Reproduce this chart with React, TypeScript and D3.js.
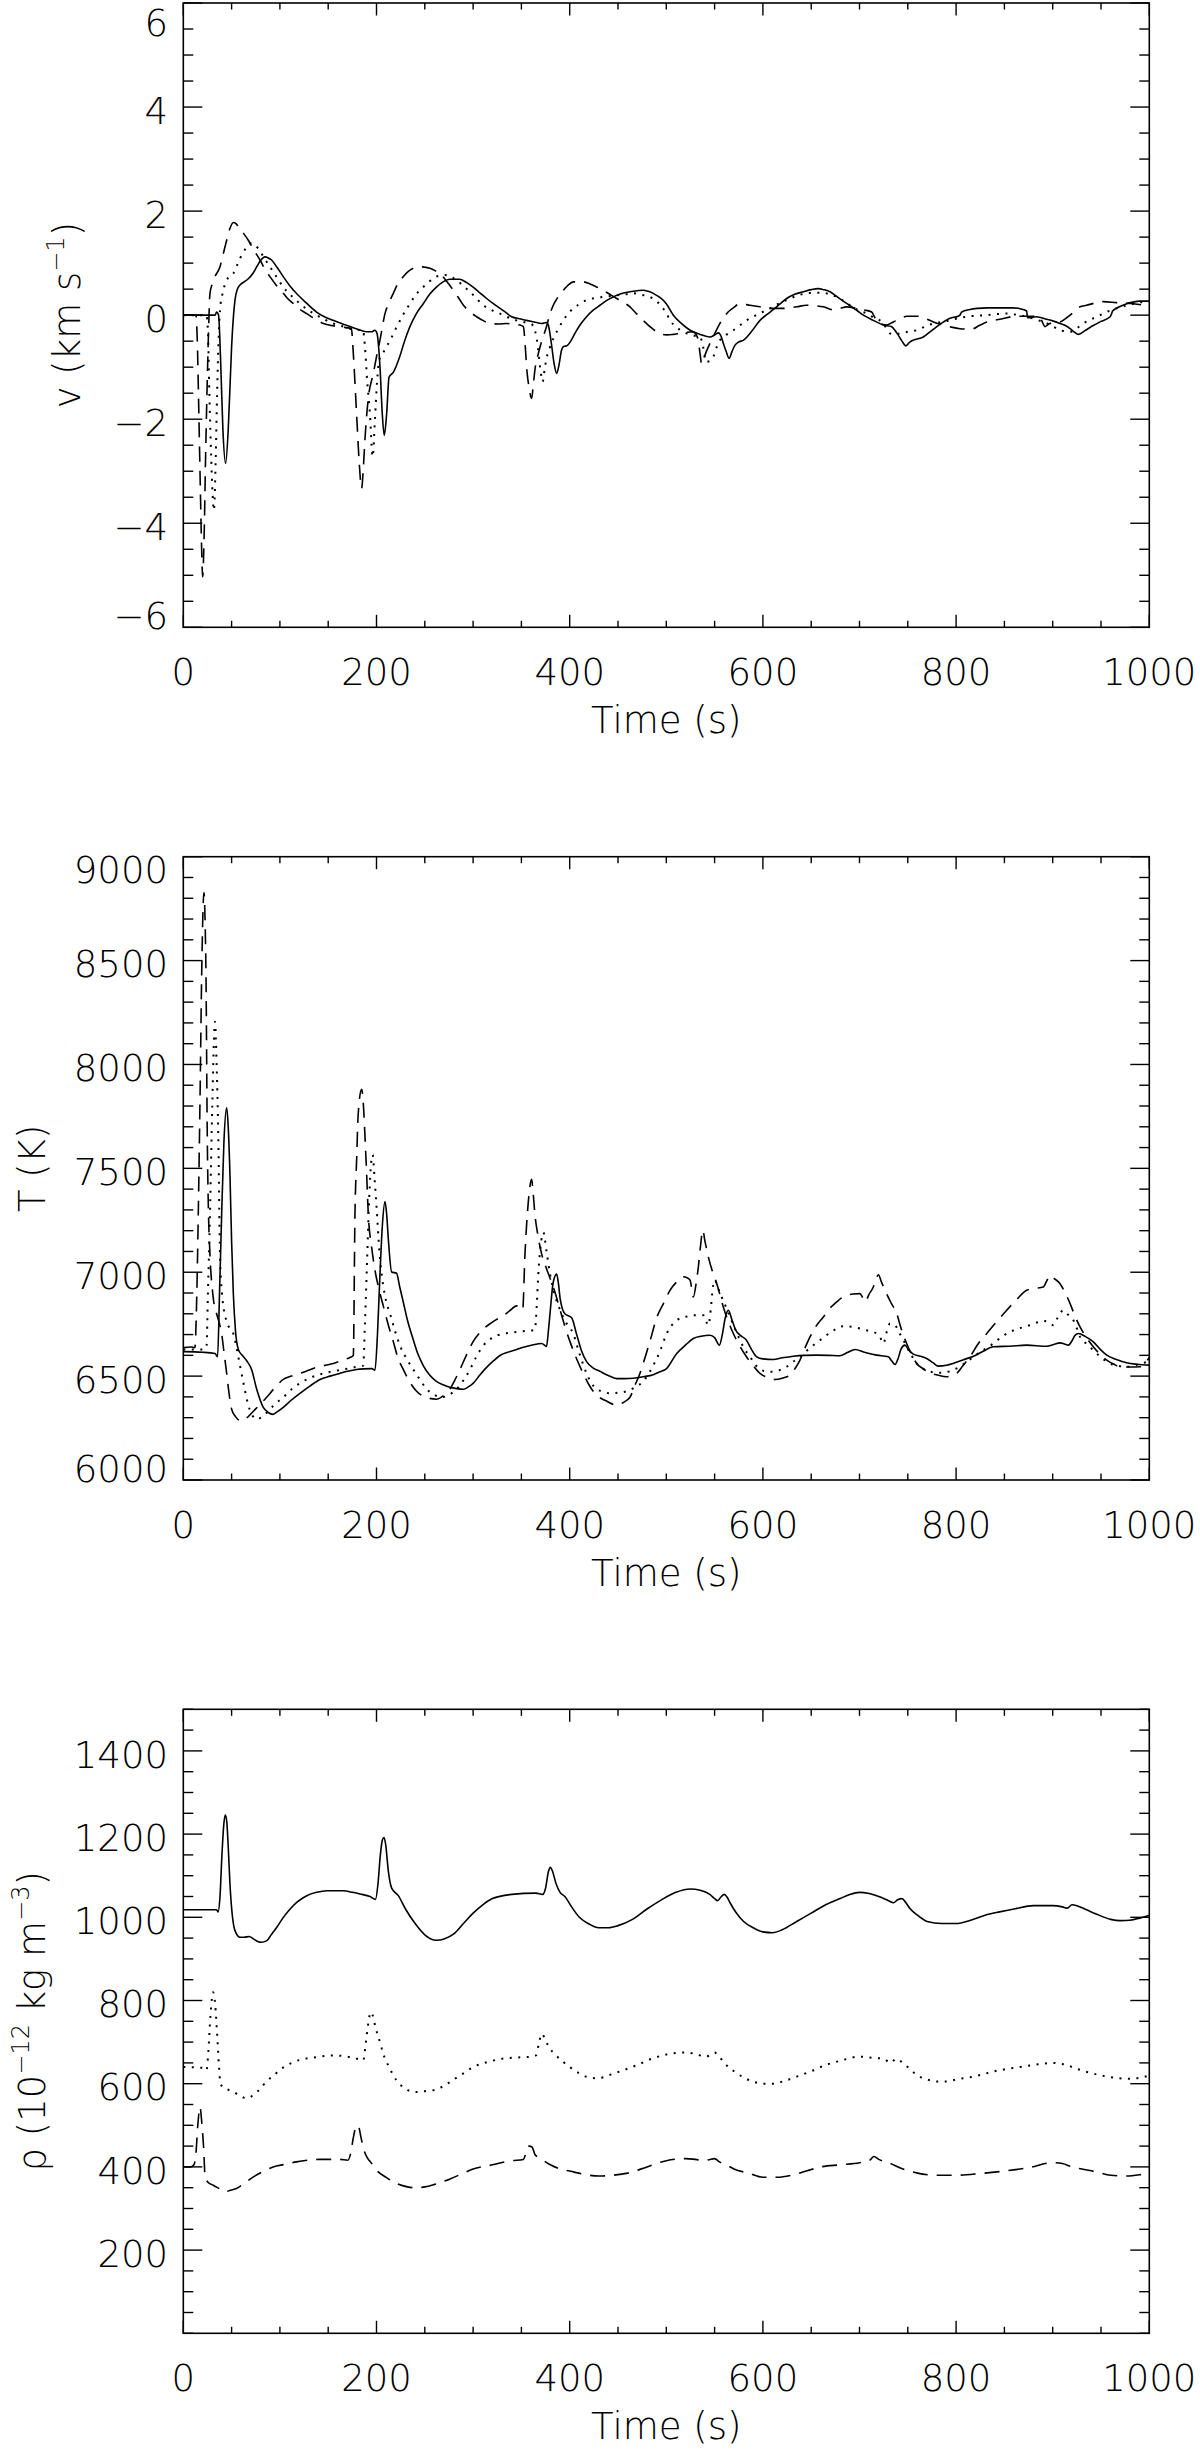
import React from 'react';
import * as d3 from 'd3';

type Pt = [number, number];

// ---------------- tick labels ----------------
const timeTicks = [0, 200, 400, 600, 800, 1000];
const vTicks = [-6, -4, -2, 0, 2, 4, 6];
const tempTicks = [6000, 6500, 7000, 7500, 8000, 8500, 9000];
const rhoTicks = [200, 400, 600, 800, 1000, 1200, 1400];

// ---------------- panel 1: velocity (km/s) ----------------
const vSolid: Pt[] = [[0,0],[20,0],[33,0],[34.5,0.06],[36.5,0],[38.5,-0.8],[41,-2.2],[43.8,-2.85],[46.5,-2.2],[48.5,-1.3],[50,-0.61],[52,0],[53.5,0.29],[56,0.5],[58.7,0.58],[63,0.64],[67.3,0.7],[72,0.8],[76,0.93],[80,1.05],[84.5,1.12],[88,1.1],[91.4,1.06],[97,0.92],[103.5,0.74],[110,0.57],[117,0.42],[127,0.24],[138,0.06],[146,-0.03],[155,-0.1],[165,-0.17],[172.5,-0.22],[182,-0.28],[190,-0.32],[195,-0.32],[198.4,-0.29],[200.5,-0.35],[203.6,-0.99],[206,-1.9],[208,-2.31],[210.5,-1.9],[213,-1.19],[217.4,-1.1],[224,-0.8],[229,-0.5],[234.6,-0.22],[241,0.02],[248.4,0.22],[255,0.4],[262,0.54],[269,0.64],[276,0.69],[286,0.69],[293,0.63],[300,0.54],[307,0.43],[314,0.32],[321,0.22],[328,0.13],[334,0.05],[340,-0.03],[348,-0.07],[355.4,-0.1],[363,-0.13],[371,-0.16],[376,-0.14],[378,-0.2],[381,-0.54],[384,-0.95],[386.5,-1.12],[389,-0.95],[391.6,-0.67],[394,-0.6],[397,-0.59],[401,-0.5],[405.4,-0.35],[411,-0.18],[417.5,-0.03],[424,0.09],[431.3,0.19],[438,0.28],[445,0.35],[453,0.41],[462.4,0.45],[470,0.47],[476,0.48],[483,0.45],[490,0.38],[494,0.33],[500,0.22],[507.3,0],[515,-0.15],[524.6,-0.29],[535,-0.37],[545.3,-0.42],[550,-0.38],[554,-0.34],[557,-0.42],[559,-0.54],[562,-0.7],[565,-0.83],[568,-0.7],[571,-0.58],[574.6,-0.52],[580,-0.48],[588,-0.32],[597,-0.1],[604,0.01],[611,0.11],[618,0.22],[624.6,0.32],[633,0.4],[642,0.45],[650,0.49],[657.4,0.51],[663,0.49],[669.5,0.45],[675,0.38],[681.6,0.29],[692,0.16],[698,0.08],[704,0],[714.3,-0.1],[724.7,-0.19],[733,-0.22],[737,-0.3],[740,-0.38],[744,-0.5],[748,-0.59],[752,-0.52],[755.7,-0.48],[766,-0.42],[773,-0.32],[780,-0.22],[787,-0.13],[793.7,-0.06],[802,-0.02],[804,0],[805.8,0.06],[814.4,0.11],[822,0.13],[831.7,0.14],[845,0.14],[859,0.14],[867,0.12],[873,0.08],[874,-0.05],[883.4,-0.03],[893.8,-0.08],[900,-0.11],[907.6,-0.16],[913,-0.2],[918,-0.26],[922,-0.32],[926.6,-0.37],[934,-0.29],[942,-0.2],[950,-0.12],[959.4,-0.03],[961,0.03],[962,0.08],[969,0.16],[976.6,0.22],[983,0.25],[990,0.27],[1000,0.27]];

const vDotted: Pt[] = [[0,0],[24,0],[25.5,-0.3],[27,-1.5],[29,-2.8],[31.7,-3.75],[33.5,-2.8],[35,-1.5],[36.5,-0.5],[38,0.1],[40.7,0.42],[44.9,0.67],[48,0.75],[51.8,0.8],[55,0.93],[58.7,1.09],[62,1.2],[65.6,1.31],[70.7,1.38],[74,1.35],[77.6,1.28],[83,1.12],[89.7,0.93],[96,0.75],[103.5,0.54],[112,0.37],[120.8,0.22],[129,0.1],[138,0],[146,-0.08],[155,-0.16],[164,-0.21],[172.5,-0.26],[180,-0.28],[186,-0.29],[188,-0.6],[190.5,-1.3],[193.2,-1.9],[196,-2.72],[198.4,-2.0],[200.5,-1.3],[203,-0.85],[206,-0.75],[210,-0.62],[215,-0.45],[221,-0.22],[228,0.02],[234.6,0.22],[241,0.4],[248.4,0.54],[255,0.65],[262,0.74],[271,0.77],[277,0.74],[283,0.67],[290,0.56],[296.8,0.45],[304,0.31],[310.6,0.19],[319,0.1],[327.8,0.03],[336,-0.04],[345,-0.1],[352,-0.13],[359,-0.16],[362,-0.2],[364,-0.29],[367,-0.6],[370,-1.1],[372,-1.28],[374,-1.05],[376,-0.83],[379,-0.65],[383,-0.45],[388,-0.27],[393.4,-0.1],[398,0.02],[403.7,0.13],[410,0.21],[417.5,0.29],[426,0.33],[434.8,0.35],[448.6,0.38],[458,0.4],[465.8,0.42],[475,0.39],[483,0.35],[490,0.27],[497,0.12],[507.3,-0.18],[514,-0.28],[521,-0.35],[528,-0.39],[535,-0.42],[538,-0.6],[541,-0.9],[545,-0.88],[548.7,-0.8],[552,-0.62],[555.6,-0.48],[562,-0.38],[569.4,-0.29],[576,-0.2],[583,-0.1],[593,0],[604,0.1],[614,0.2],[624.6,0.29],[635,0.37],[645.3,0.42],[654,0.43],[662.6,0.43],[669,0.4],[676.4,0.35],[683,0.28],[690,0.19],[698,0.1],[707.5,0.03],[714,-0.04],[721,-0.1],[726,-0.2],[731.6,-0.35],[737,-0.37],[742,-0.35],[750,-0.32],[759,-0.29],[768,-0.22],[776.5,-0.16],[785,-0.13],[793.7,-0.1],[802,-0.06],[811,-0.03],[821,-0.01],[831.7,0],[842,0.02],[852.4,0.03],[862,0.01],[873,-0.03],[882,-0.08],[890.3,-0.13],[899,-0.2],[907.6,-0.29],[913,-0.31],[918,-0.32],[925,-0.25],[931.7,-0.16],[940,-0.08],[949,0],[957,0.07],[966,0.13],[975,0.18],[983.5,0.22],[992,0.25],[1000,0.27]];

const vDashed: Pt[] = [[0,0],[13,0],[14.5,-0.5],[16,-1.8],[17.5,-3.2],[19,-4.5],[20,-5.03],[21.5,-4.3],[23,-2.8],[24.5,-1.5],[26,-0.4],[27.6,0.42],[30,0.6],[32.8,0.74],[38,0.93],[41,1.15],[44.9,1.44],[48,1.65],[51.8,1.78],[54.5,1.76],[57,1.7],[62,1.58],[67.3,1.44],[73,1.25],[79.4,1.06],[84,0.9],[89.7,0.74],[96,0.58],[103.5,0.42],[108,0.32],[113.9,0.22],[120,0.12],[127.7,0.03],[136,-0.07],[145,-0.16],[153,-0.2],[162,-0.22],[168,-0.24],[174,-0.26],[176,-0.74],[179.4,-1.9],[182,-2.8],[184.6,-3.33],[186.5,-2.9],[188,-2.4],[191.5,-1.6],[196.7,-1.12],[200,-0.8],[203.6,-0.48],[208.8,0.03],[213,0.24],[217.4,0.42],[222,0.6],[227.7,0.74],[233,0.84],[238,0.9],[245,0.93],[255.4,0.9],[261,0.85],[267.4,0.77],[273,0.64],[279.5,0.48],[285,0.33],[290,0.19],[297,0.06],[303.7,-0.03],[310,-0.1],[317.5,-0.16],[326,-0.17],[334.7,-0.16],[342,-0.18],[348.5,-0.19],[352,-0.22],[354,-0.6],[355.4,-1.0],[358,-1.4],[360.6,-1.6],[362.5,-1.3],[364,-1.05],[367.5,-0.74],[371,-0.5],[376,-0.22],[379,-0.01],[383,0.19],[388,0.35],[393.4,0.48],[398,0.57],[403.7,0.64],[414,0.64],[421,0.6],[428,0.54],[438,0.44],[448.6,0.32],[455,0.25],[462.4,0.16],[469,0.03],[476,-0.1],[483,-0.22],[490,-0.32],[496,-0.37],[500.4,-0.38],[507,-0.37],[514,-0.35],[521,-0.33],[528,-0.32],[531,-0.38],[533,-0.48],[535,-0.75],[536.6,-0.94],[538.5,-0.85],[541,-0.72],[545.3,-0.54],[551,-0.32],[557.3,-0.1],[564,0.06],[570,0.15],[576.3,0.22],[586.7,0.19],[597,0.16],[607.4,0.13],[621,0.13],[635,0.16],[645,0.19],[654,0.18],[662.6,0.16],[673,0.1],[680,0.13],[686.7,0.16],[697,0.13],[705,0.1],[712.6,0.06],[716,-0.05],[721,-0.16],[728,-0.19],[735,-0.13],[742,-0.07],[749,-0.02],[761,-0.02],[769,-0.07],[776.5,-0.13],[786.8,-0.19],[795,-0.23],[804,-0.26],[816,-0.27],[824,-0.2],[831.7,-0.13],[845.5,-0.08],[862.7,-0.02],[873,-0.02],[887,-0.03],[889,-0.12],[892,-0.22],[897,-0.16],[907.6,-0.13],[913,-0.07],[918,0],[923,0.08],[928.3,0.16],[935,0.19],[943,0.23],[952.4,0.26],[966,0.24],[983.5,0.22],[1000,0.17]];

// ---------------- panel 2: temperature (K) ----------------
const tSolid: Pt[] = [[0,6618],[20,6615],[32.8,6609],[35.5,6593],[37.5,6900],[39.7,7278],[42,7620],[44.9,7791],[46.5,7700],[48.3,7470],[50,7150],[51.8,6896],[54,6720],[57,6628],[61,6600],[65.6,6574],[70.7,6532],[76,6437],[82.8,6350],[88,6325],[92.5,6316],[97,6328],[103.5,6350],[112,6385],[120.8,6417],[131,6452],[141.5,6484],[152,6500],[162,6513],[170,6523],[179.4,6532],[187,6535],[195,6536],[198.4,6528],[201,6700],[203.6,6991],[206,7220],[208.8,7340],[210.5,7280],[212.2,7163],[215.7,7001],[220.8,6995],[224,6930],[227.7,6857],[232,6770],[238,6676],[243,6605],[248.4,6551],[255,6505],[262,6475],[269,6458],[276,6446],[283,6440],[290,6437],[295,6448],[300,6465],[307,6505],[314,6542],[321,6573],[327.8,6599],[336,6615],[345,6628],[353,6640],[362.3,6651],[371,6657],[376,6643],[378,6720],[379.6,6800],[383,6953],[386.5,6991],[388.5,6940],[390,6877],[395,6800],[402,6781],[407,6704],[412,6625],[417.5,6570],[424,6540],[431.3,6523],[440,6503],[448.6,6488],[457,6488],[465.8,6490],[476,6497],[486.5,6507],[493.5,6521],[500,6535],[510.8,6609],[520,6650],[528,6681],[536,6692],[545.3,6697],[550,6685],[555,6649],[558,6700],[561,6780],[564.2,6817],[568,6770],[572,6720],[576.3,6697],[583,6673],[588,6630],[593.6,6593],[600,6583],[610.8,6580],[620,6588],[631.5,6596],[643,6600],[655.7,6601],[668,6600],[679.8,6598],[688,6615],[695.4,6628],[705,6615],[717.8,6601],[729.9,6593],[733,6575],[736.8,6556],[740,6585],[743,6630],[747,6649],[751,6625],[755.7,6606],[762,6597],[769.5,6585],[776,6565],[781.6,6548],[790,6552],[797,6561],[807,6578],[818,6596],[828,6620],[838.6,6641],[855.8,6644],[873,6649],[893.8,6644],[901,6652],[907.6,6660],[912,6655],[916.2,6649],[920,6670],[923,6695],[926.6,6705],[934,6690],[942,6665],[949,6630],[956,6601],[966,6580],[976.6,6564],[987,6557],[1000,6553]];

const tDotted: Pt[] = [[0,6628],[20,6628],[24,6640],[25.5,6900],[27.6,7278],[30,7800],[32.8,8206],[34.5,8000],[36.2,7661],[38,7087],[40,6900],[44.9,6762],[48,6730],[51.8,6704],[55,6640],[58.7,6551],[63,6450],[67.3,6360],[71,6315],[76,6293],[82,6305],[89.7,6341],[96,6370],[103.5,6398],[113,6440],[124,6475],[134,6497],[145,6513],[155,6523],[165.6,6532],[176,6542],[186.3,6551],[188,6750],[189.8,6991],[192,7300],[194,7500],[196,7565],[198,7450],[200,7317],[203,7100],[207,6934],[210,6860],[214,6800],[219,6720],[224.3,6647],[231,6585],[238,6532],[245,6483],[252,6437],[259,6412],[267.4,6398],[275,6410],[283,6437],[290,6480],[296.8,6532],[303,6590],[310.6,6647],[320,6685],[331.3,6704],[340,6710],[348.5,6714],[356,6718],[364,6723],[366,6850],[367.5,6991],[370,7130],[372.7,7192],[376,7100],[379.6,6991],[384,6900],[390,6819],[396,6760],[403.7,6704],[410,6610],[417.5,6513],[422,6470],[428,6437],[435,6425],[441.7,6417],[450,6420],[459,6427],[467,6445],[476.2,6475],[484,6530],[493.5,6620],[500,6700],[510.8,6769],[520,6785],[528,6793],[538.4,6793],[543.5,6745],[546,6820],[548,6920],[550.4,6962],[553,6930],[557.3,6881],[562,6830],[566,6785],[571,6730],[576.3,6673],[581,6630],[586.7,6593],[592,6555],[597,6532],[604,6523],[610.8,6521],[617,6528],[624.6,6545],[631,6568],[638.4,6593],[648,6633],[659,6673],[670,6710],[683.3,6740],[692,6737],[700.5,6729],[710,6717],[717.8,6705],[721,6690],[724.7,6657],[728,6710],[731.6,6753],[736.8,6745],[741,6710],[745.4,6673],[752,6615],[759.2,6561],[766,6535],[773,6521],[786.8,6516],[793,6523],[800.6,6537],[809,6562],[818,6593],[828,6625],[838.6,6657],[847,6688],[855.8,6713],[864,6728],[873,6740],[882,6755],[890.3,6766],[896,6760],[900.7,6745],[905,6780],[911,6817],[916,6795],[921.4,6769],[925,6730],[928.3,6689],[935,6655],[942,6625],[950,6590],[959.4,6561],[967,6550],[976.6,6545],[987,6555],[1000,6572]];

const tDashed: Pt[] = [[0,6637],[8,6640],[12,6637],[14,6900],[15.5,7278],[17.5,7900],[19,8426],[21.4,8828],[22.5,8700],[23.5,8426],[24.8,7661],[26,7300],[27.6,7087],[31,6877],[34.5,6800],[37,6760],[39.7,6704],[42,6620],[44.9,6513],[47,6430],[50,6341],[54,6305],[60.4,6284],[66,6300],[72.5,6331],[79,6362],[86.3,6398],[94,6440],[103.5,6484],[112,6500],[120.8,6513],[129,6527],[138,6542],[147,6552],[155.3,6561],[164,6575],[172.5,6590],[176,6599],[177.7,7278],[179.5,7550],[181,7757],[184.6,7881],[186.5,7800],[188,7661],[190,7450],[191.5,7278],[195,7120],[198.4,7010],[203,6910],[207,6838],[212,6750],[217.4,6666],[222,6590],[227.7,6532],[234,6475],[241.5,6427],[250,6400],[262,6389],[269,6405],[276,6437],[281,6480],[286.4,6532],[293,6600],[300,6666],[308,6715],[317.5,6752],[324,6772],[331.3,6790],[338,6815],[345,6838],[351.3,6819],[353.7,7087],[357.1,7336],[360.6,7447],[362,7390],[364,7278],[367,7180],[371,7087],[375,7030],[379.6,6972],[385,6900],[390,6819],[395,6740],[400.3,6666],[407,6585],[414,6513],[421,6450],[428,6408],[438,6380],[448.6,6360],[455,6372],[462.4,6398],[467,6450],[472.7,6513],[478,6590],[483,6666],[490,6780],[497,6849],[503.8,6913],[510,6950],[517.7,6978],[521,6975],[524.6,6962],[528,6881],[531,6950],[533.2,7026],[535.5,7130],[537.7,7202],[540,7150],[543.5,7074],[548,7000],[552.2,6946],[559,6833],[564,6765],[569.4,6705],[576,6645],[583,6593],[590,6550],[597,6513],[604,6495],[612.5,6484],[620,6490],[628,6505],[633,6535],[638.4,6577],[643,6630],[648.8,6689],[655,6740],[662.6,6785],[669,6825],[676.4,6857],[681,6875],[686.7,6889],[693,6895],[700.5,6897],[703,6880],[705.7,6857],[710,6895],[714.3,6929],[717,6965],[719.5,6988],[723,6950],[728,6897],[733,6850],[738.5,6801],[743,6730],[748.8,6657],[754,6605],[759.2,6561],[766,6535],[773,6516],[781,6505],[790.3,6497],[795,6503],[800.6,6513],[807,6550],[814.4,6593],[822,6650],[831.7,6705],[842,6762],[852.4,6817],[862,6865],[873,6913],[881,6922],[890.3,6929],[894,6960],[897.2,6985],[902,6968],[907.6,6945],[913,6900],[918,6849],[923,6790],[928.3,6737],[935,6685],[942,6641],[949,6605],[956,6577],[963,6558],[969.7,6545],[980,6544],[990.4,6545],[995,6560],[1000,6590]];

// ---------------- panel 3: density (1e-12 kg/m^3) ----------------
const rhoSolid: Pt[] = [[0,1018],[34.5,1018],[36,1013],[38,1050],[40,1150],[42,1225],[43.5,1246],[45,1230],[46.5,1170],[48.3,1080],[50.5,1010],[53.5,968],[58.7,952],[63,952],[68.4,954],[72.5,948],[77,942],[80.7,940],[86.5,944],[91,958],[96.8,976],[103,998],[110.6,1020],[118,1037],[127.8,1052],[138,1060],[148.5,1064],[165.7,1064],[175,1060],[183,1056],[193.3,1050],[199,1043],[201.5,1080],[204,1150],[206,1185],[207.8,1192],[209.5,1175],[212.2,1112],[215.7,1070],[222.6,1052],[230,1020],[240,985],[250,958],[262,945],[270,948],[280,960],[290,985],[300,1010],[310,1030],[320,1045],[340,1055],[365,1058],[372,1055],[375,1070],[378,1110],[380,1120],[382,1112],[386,1080],[390,1060],[395,1050],[402,1025],[410,1000],[420,984],[430,975],[440,975],[450,980],[465,995],[480,1020],[495,1042],[510,1060],[525,1068],[535,1065],[545,1055],[550,1045],[553,1040],[557,1050],[560,1055],[563,1048],[566,1035],[572,1012],[580,990],[590,975],[600,965],[610,963],[620,970],[635,990],[650,1010],[665,1030],[680,1045],[690,1055],[700,1060],[710,1057],[720,1050],[730,1040],[735,1035],[740,1043],[744,1045],[748,1035],[752,1022],[760,1005],[770,990],[785,985],[800,985],[815,993],[830,1005],[845,1013],[860,1020],[880,1028],[900,1028],[910,1025],[915,1022],[920,1030],[925,1028],[935,1018],[945,1008],[960,995],[970,992],[980,993],[990,998],[1000,1005]];

const rhoDotted: Pt[] = [[0,640],[20,638],[24,632],[26,680],[28,760],[30.9,820],[33,790],[35,720],[37,640],[38.5,600],[42,590],[47,585],[52,580],[58,572],[66,565],[72,572],[79.7,588],[86,605],[93.5,620],[103,638],[114,652],[126,660],[138,664],[155.3,668],[172.5,664],[180,660],[186.3,656],[189,700],[191.5,745],[194,772],[196,765],[199,735],[203.6,700],[207,672],[213,640],[220.7,608],[230,588],[240,580],[250,582],[260,585],[270,595],[280,610],[290,625],[300,640],[315,652],[330,660],[345,663],[360,665],[365,668],[368,695],[371,720],[374,710],[378,690],[385,670],[392,655],[400,640],[410,625],[420,615],[430,613],[440,620],[455,632],[470,645],[485,660],[500,670],[520,675],[530,672],[540,665],[545,668],[550,675],[553,670],[560,650],[570,630],[580,615],[590,605],[600,600],[610,600],[620,605],[635,617],[650,630],[665,645],[680,655],[700,665],[715,662],[725,660],[732,650],[738,660],[742,655],[750,640],[760,620],[770,610],[780,605],[790,605],[800,610],[820,618],[840,630],[860,638],[880,645],[900,650],[908,648],[915,645],[920,640],[930,632],[950,620],[965,614],[980,612],[990,614],[1000,620]];

const rhoDashed: Pt[] = [[0,400],[8,400],[11,405],[13,430],[15,500],[17.3,544],[19,510],[21,448],[22.6,376],[26,362],[31,356],[37,348],[43,340],[49,344],[55,348],[63,360],[72.5,376],[82,388],[93,400],[105,406],[117,412],[129,416],[141,418],[162,418],[170.3,416],[173,430],[176,470],[178.5,495],[181,500],[184,470],[187,440],[190,424],[195,408],[200,392],[210,375],[221,360],[232,352],[240,350],[250,352],[260,358],[275,370],[290,385],[300,395],[320,405],[340,415],[352,418],[355,435],[358,450],[361,448],[364,430],[370,420],[380,405],[390,395],[400,390],[415,382],[430,378],[445,380],[460,385],[480,400],[500,415],[520,420],[530,418],[540,415],[545,418],[550,420],[555,412],[562,405],[570,395],[585,385],[600,375],[615,375],[630,380],[645,390],[660,400],[680,405],[700,410],[710,415],[715,425],[720,418],[730,410],[745,395],[760,385],[780,380],[800,380],[825,384],[850,390],[875,398],[900,410],[910,408],[920,400],[930,395],[945,388],[960,380],[975,378],[990,381],[1000,385]];

// ---------------- layout ----------------
const W = 1200;
const H = 2452;
const PLOT_LEFT = 183.3;
const PLOT_RIGHT = 1149.3;
const FONT = "'DejaVu Sans', 'Liberation Sans', sans-serif";
const INK = '#000';

const DASH = { solid: undefined as string | undefined, dotted: '2,6.5', dashed: '15,9' };

interface PanelSpec {
  top: number;
  bottom: number;
  domain: [number, number];
  minor: number;
  ticks: number[];
  series: { data: Pt[]; style: 'solid' | 'dotted' | 'dashed' }[];
  titleX: number;
  title: React.ReactNode;
  id: string;
}

const fmt = (v: number) => (v < 0 ? '\u2212' + Math.abs(v) : String(v));

function Panel({ spec }: { spec: PanelSpec }) {
  const x = d3.scaleLinear().domain([0, 1000]).range([PLOT_LEFT, PLOT_RIGHT]);
  const y = d3.scaleLinear().domain(spec.domain).range([spec.bottom, spec.top]);
  const line = d3
    .line<Pt>()
    .x((d) => x(d[0]))
    .y((d) => y(d[1]))
    .curve(d3.curveMonotoneX);

  const xMinor = d3.range(0, 1000 + 1e-6, 50);
  const yMinor = d3.range(spec.domain[0], spec.domain[1] + 1e-6, spec.minor);
  const xMajorLen = 12.5, xMinorLen = 6.5, yMajorLen = 19, yMinorLen = 10;
  const isMajorX = (v: number) => Math.abs(v % 200) < 1e-6;
  const isMajorY = (v: number) => spec.ticks.some((t) => Math.abs(t - v) < 1e-6);
  const midX = (PLOT_LEFT + PLOT_RIGHT) / 2;
  const midY = (spec.top + spec.bottom) / 2;

  return (
    <g>
      <defs>
        <clipPath id={`clip-${spec.id}`}>
          <rect x={PLOT_LEFT} y={spec.top} width={PLOT_RIGHT - PLOT_LEFT} height={spec.bottom - spec.top} />
        </clipPath>
      </defs>
      <g clipPath={`url(#clip-${spec.id})`}>
        {spec.series.map((s, i) => (
          <path
            key={i}
            d={line(s.data) || ''}
            fill="none"
            stroke="#000"
            strokeWidth={s.style === 'dotted' ? 2 : 1.6}
            strokeDasharray={DASH[s.style]}
            strokeLinejoin="round"
          />
        ))}
      </g>
      <rect
        x={PLOT_LEFT}
        y={spec.top}
        width={PLOT_RIGHT - PLOT_LEFT}
        height={spec.bottom - spec.top}
        fill="none"
        stroke={INK}
        strokeWidth={1.6}
      />
      {xMinor.map((v) => {
        const len = isMajorX(v) ? xMajorLen : xMinorLen;
        const px = x(v);
        return (
          <g key={'x' + v}>
            <line x1={px} x2={px} y1={spec.bottom} y2={spec.bottom - len} stroke={INK} strokeWidth={1.4} />
            <line x1={px} x2={px} y1={spec.top} y2={spec.top + len} stroke={INK} strokeWidth={1.4} />
          </g>
        );
      })}
      {yMinor.map((v) => {
        const len = isMajorY(v) ? yMajorLen : yMinorLen;
        const py = y(v);
        return (
          <g key={'y' + v}>
            <line x1={PLOT_LEFT} x2={PLOT_LEFT + len} y1={py} y2={py} stroke={INK} strokeWidth={1.4} />
            <line x1={PLOT_RIGHT} x2={PLOT_RIGHT - len} y1={py} y2={py} stroke={INK} strokeWidth={1.4} />
          </g>
        );
      })}
      {timeTicks.map((v) => (
        <text
          key={'xl' + v}
          x={x(v)}
          y={spec.bottom + 58}
          textAnchor="middle"
          fontFamily={FONT}
          fontWeight={200}
          fontSize={37}
          fill={INK}
        >
          {v}
        </text>
      ))}
      {spec.ticks.map((v) => {
        const base = Math.max(
          Math.min(Math.max(y(v) + 16.7, spec.top + 26), spec.bottom + 1.7),
          36
        );
        return (
          <text
            key={'yl' + v}
            x={168}
            y={base}
            textAnchor="end"
            fontFamily={FONT}
            fontWeight={200}
            fontSize={37}
            fill={INK}
          >
            {fmt(v)}
          </text>
        );
      })}
      <text
        x={midX}
        y={spec.bottom + 106}
        textAnchor="middle"
        fontFamily={FONT}
        fontWeight={200}
        fontSize={37}
        fill={INK}
      >
        Time (s)
      </text>
      <text
        transform={`translate(${spec.titleX},${midY}) rotate(-90)`}
        textAnchor="middle"
        fontFamily={FONT}
        fontWeight={200}
        fontSize={37}
        fill={INK}
      >
        {spec.title}
      </text>
    </g>
  );
}

export default function App() {
  const panels: PanelSpec[] = [
    {
      id: 'v',
      top: 3,
      bottom: 627.3,
      domain: [-6, 6],
      minor: 0.5,
      ticks: vTicks,
      series: [
        { data: vSolid, style: 'solid' },
        { data: vDotted, style: 'dotted' },
        { data: vDashed, style: 'dashed' },
      ],
      titleX: 80,
      title: (
        <>
          v (km s<tspan dy={-16} fontSize={24}>{'\u2212'}1</tspan>
          <tspan dy={16}>)</tspan>
        </>
      ),
    },
    {
      id: 't',
      top: 856.7,
      bottom: 1480,
      domain: [6000, 9000],
      minor: 100,
      ticks: tempTicks,
      series: [
        { data: tSolid, style: 'solid' },
        { data: tDotted, style: 'dotted' },
        { data: tDashed, style: 'dashed' },
      ],
      titleX: 45,
      title: <>T (K)</>,
    },
    {
      id: 'rho',
      top: 1709.3,
      bottom: 2333.3,
      domain: [0, 1500],
      minor: 50,
      ticks: rhoTicks,
      series: [
        { data: rhoSolid, style: 'solid' },
        { data: rhoDotted, style: 'dotted' },
        { data: rhoDashed, style: 'dashed' },
      ],
      titleX: 45,
      title: (
        <>
          {'\u03c1'} (10<tspan dy={-16} fontSize={24}>{'\u2212'}12</tspan>
          <tspan dy={16}> kg m</tspan>
          <tspan dy={-16} fontSize={24}>{'\u2212'}3</tspan>
          <tspan dy={16}>)</tspan>
        </>
      ),
    },
  ];

  return (
    <svg
      width={W}
      height={H}
      viewBox={`0 0 ${W} ${H}`}
      style={{ position: 'absolute', left: 0, top: 0, background: '#fff', display: 'block' }}
    >
      <rect x={0} y={0} width={W} height={H} fill="#fff" />
      {panels.map((p) => (
        <Panel key={p.id} spec={p} />
      ))}
    </svg>
  );
}
